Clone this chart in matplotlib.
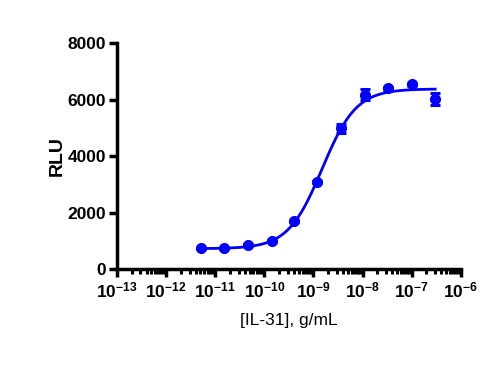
import numpy as np
import matplotlib.pyplot as plt
from matplotlib.ticker import LogLocator, NullFormatter

# IL-31 dose response (3-fold dilutions)
conc = [5.1e-12, 1.5e-11, 4.6e-11, 1.4e-10, 4.1e-10, 1.2e-9, 3.7e-9, 1.1e-8, 3.3e-8, 1.0e-7, 3.0e-7]
rlu = [740, 740, 860, 1000, 1700, 3080, 4980, 6180, 6400, 6540, 6020]
rlu_err = [20, 20, 30, 30, 40, 50, 170, 180, 50, 50, 200]

# 4PL fit parameters
bottom, top, ec50, hill = 720, 6380, 1.5e-9, 1.25

plt.rcParams['font.family'] = ['Liberation Sans', 'DejaVu Sans']
plt.rcParams['mathtext.fontset'] = 'custom'
plt.rcParams['mathtext.rm'] = 'Liberation Sans:bold'
plt.rcParams['mathtext.bf'] = 'Liberation Sans:bold'
plt.rcParams['mathtext.it'] = 'Liberation Sans:bold'

fig = plt.figure(figsize=(5.02, 3.66), dpi=100)
ax = fig.add_axes([0.233, 0.265, 0.685, 0.617])

blue = '#0000ff'
xs = np.logspace(np.log10(conc[0]), np.log10(conc[-1]), 300)
fit = bottom + (top - bottom) / (1 + (ec50 / xs) ** hill)
ax.plot(xs, fit, color=blue, lw=2.0, zorder=2)
ax.errorbar(conc, rlu, yerr=rlu_err, fmt='none', ecolor=blue,
            elinewidth=2, capsize=3.6, capthick=2.2, zorder=3)
ax.plot(conc, rlu, 'o', color=blue, ms=7, zorder=4)

ax.set_xscale('log')
ax.set_xlim(1e-13, 1e-6)
ax.set_ylim(0, 8000)
ax.set_yticks([0, 2000, 4000, 6000, 8000])
ax.xaxis.set_major_locator(LogLocator(base=10, numticks=20))
ax.xaxis.set_minor_locator(LogLocator(base=10, subs=np.arange(2, 10), numticks=20))
ax.xaxis.set_minor_formatter(NullFormatter())

for s in ['top', 'right']:
    ax.spines[s].set_visible(False)
for s in ['left', 'bottom']:
    ax.spines[s].set_linewidth(2.5)

ax.tick_params(axis='both', which='major', width=2.5, length=6, labelsize=12.5, pad=2)
ax.tick_params(axis='x', which='minor', width=2.2, length=3.5)
for lbl in ax.get_xticklabels() + ax.get_yticklabels():
    lbl.set_fontweight('bold')

ax.set_ylabel('RLU', fontsize=14, fontweight='bold', labelpad=1)
ax.set_xlabel('[IL-31], g/mL', fontsize=12.5, labelpad=9)

fig.savefig('out.png', dpi=100)
